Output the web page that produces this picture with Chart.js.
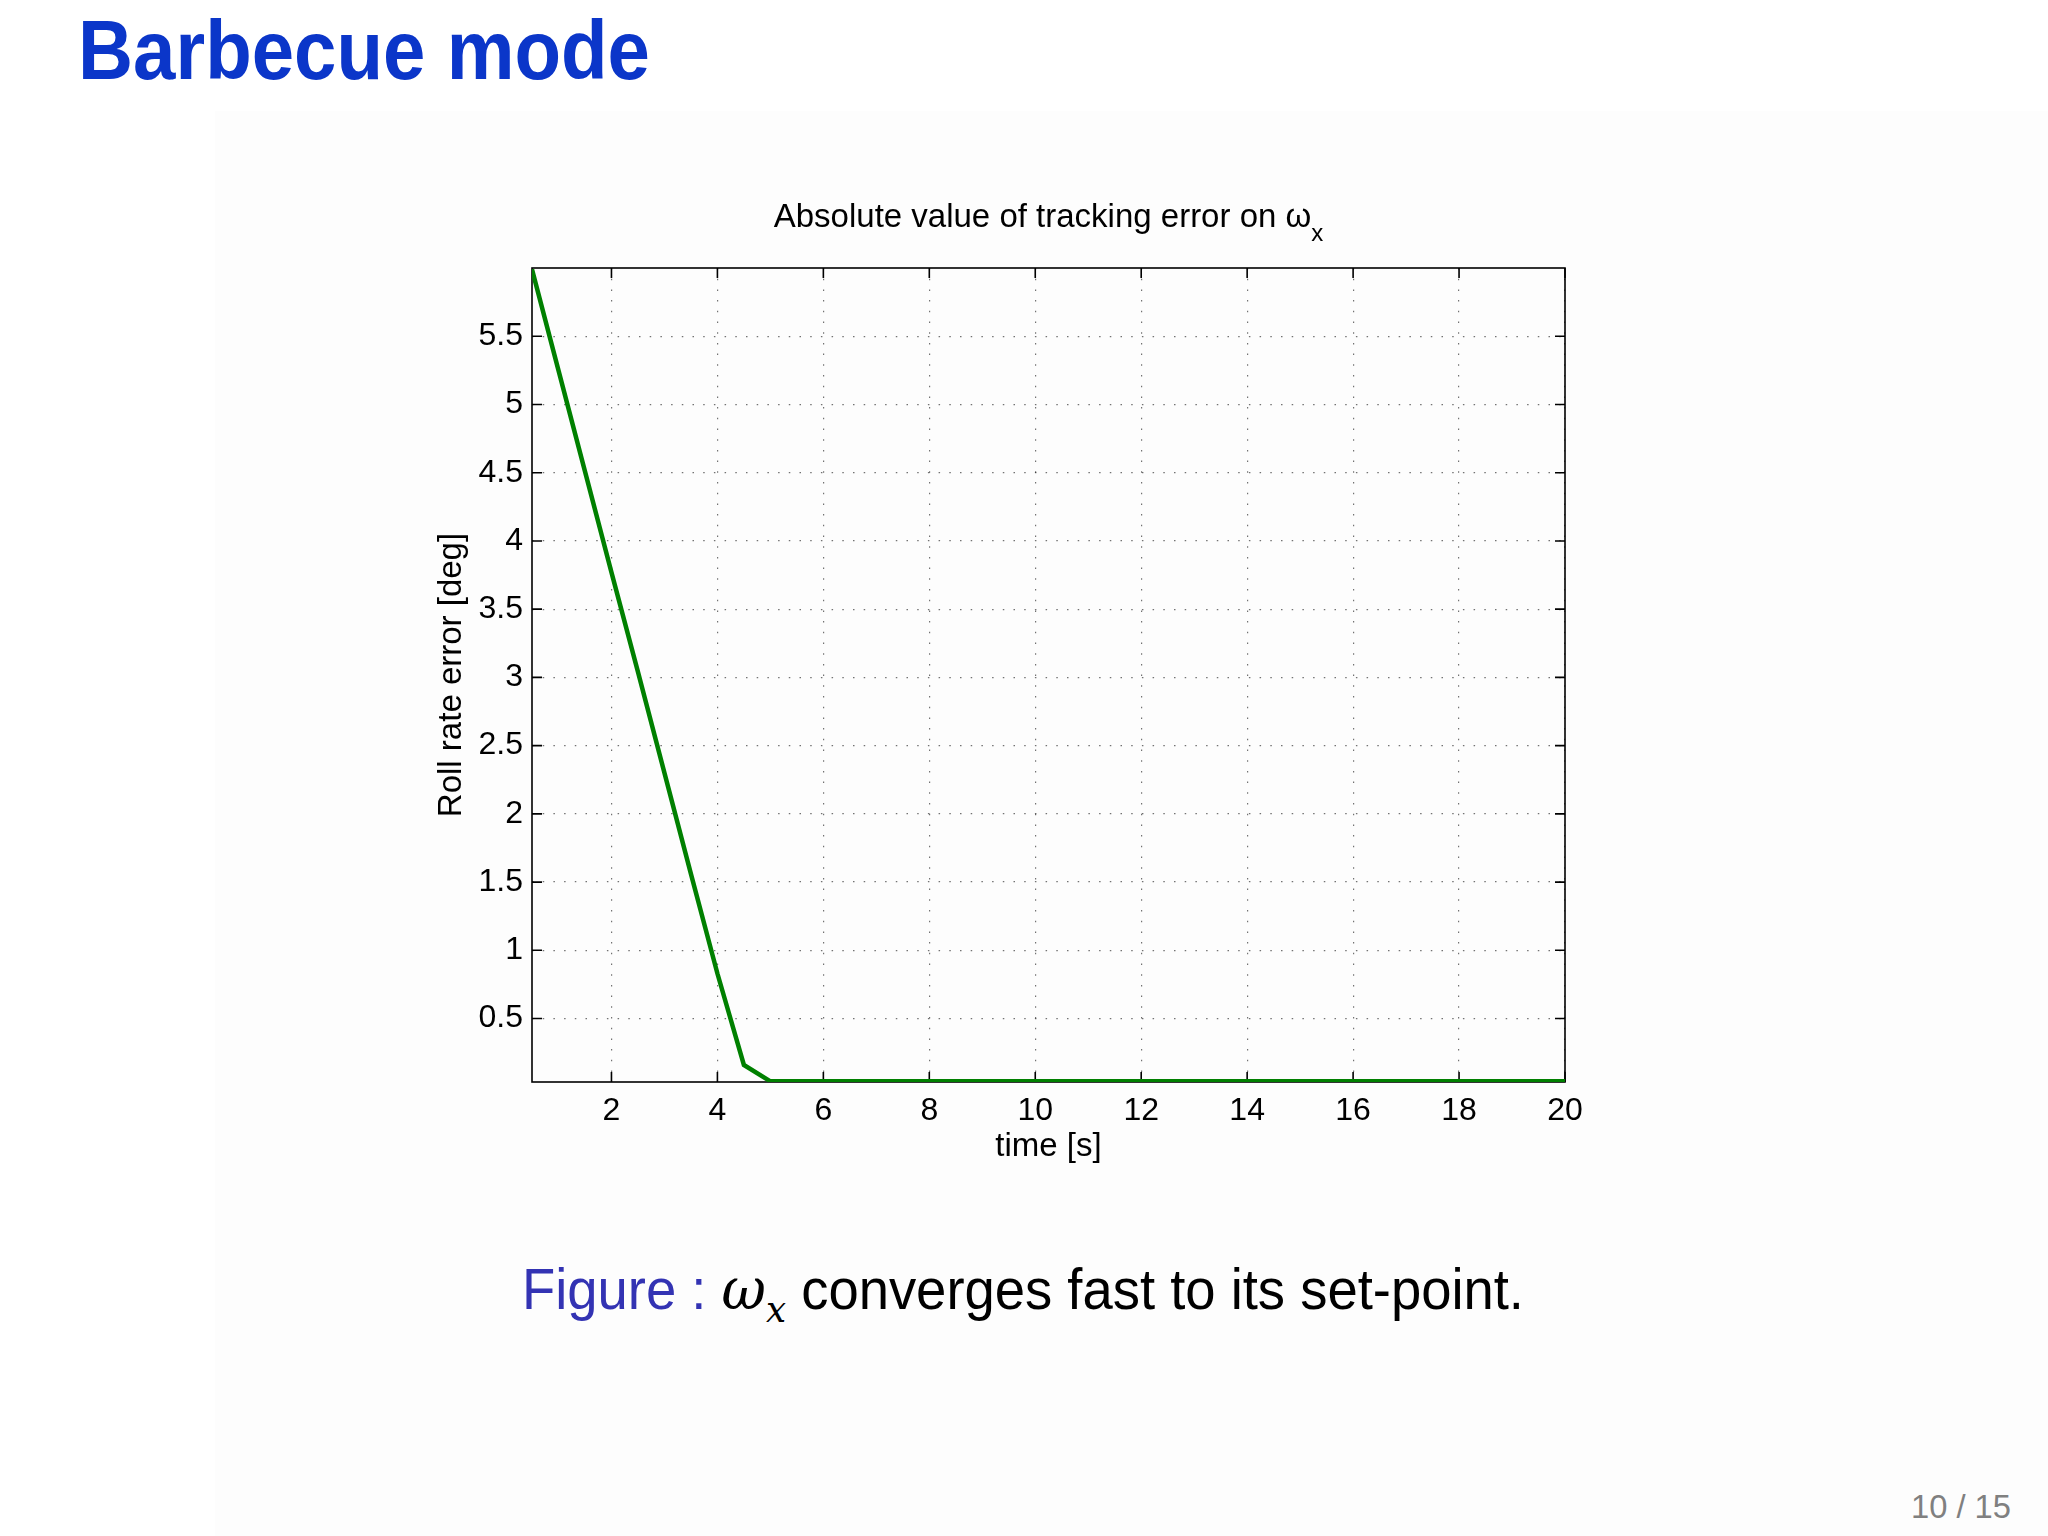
<!DOCTYPE html>
<html>
<head>
<meta charset="utf-8">
<script src="https://cdn.jsdelivr.net/npm/chart.js@4/dist/chart.umd.min.js"></script>
<style>
  html, body { margin: 0; padding: 0; background: #fff; }
  body { width: 2048px; height: 1536px; position: relative; overflow: hidden; font-family: "Liberation Sans", Arial, sans-serif; }
  #panel { position: absolute; left: 215px; top: 111px; width: 1833px; height: 1425px; background: #fdfdfd; }
  #head { position: absolute; left: 78px; top: 0px; font-weight: bold; font-size: 84px; color: #0b36c9; white-space: nowrap; transform-origin: 0 0; line-height: 100px; }
  #wrap { position: absolute; left: 380px; top: 150px; width: 1240px; height: 1050px; }
  #caption { position: absolute; left: 522px; top: 1254px; font-size: 58px; white-space: nowrap; transform-origin: 0 0; line-height: 70px; color: #000; }
  #caption .lbl { color: #3333b3; }
  #caption i { font-family: "DejaVu Serif", serif; }
  #caption sub { font-size: 38px; }
  #pg { position: absolute; left: 1911px; top: 1488px; font-size: 33px; color: #808080; white-space: nowrap; transform-origin: 0 0; }
</style>
</head>
<body>
<div id="panel"></div>
<div id="head">Barbecue mode</div>
<div id="wrap"><canvas id="myChart"></canvas></div>
<div id="caption"><span class="lbl">Figure :</span> <i>ω<sub>x</sub></i> converges fast to its set-point.</div>
<div id="pg">10 / 15</div>
<script>
// datos
var timeS   = [0.5, 1, 1.5, 2, 2.5, 3, 3.5, 4, 4.5, 5, 10, 15, 20];
var rollErr = [5.99, 5.25, 4.51, 3.77, 3.04, 2.30, 1.56, 0.83, 0.16, 0.04, 0.04, 0.04, 0.04];
var xTicks  = [2, 4, 6, 8, 10, 12, 14, 16, 18, 20];
var yTicks  = [0.5, 1, 1.5, 2, 2.5, 3, 3.5, 4, 4.5, 5, 5.5];

// ajustar textos al ancho del original
function fitWidth(id, w) {
  var el = document.getElementById(id);
  var r = w / el.getBoundingClientRect().width;
  el.style.transform = 'scaleX(' + r + ')';
}
fitWidth('head', 572);
fitWidth('caption', 1002);
fitWidth('pg', 100);

var points = timeS.map(function (t, i) { return { x: t, y: rollErr[i] }; });

// marco, marcas hacia dentro y titulo con subindice
var matlabAxes = {
  id: 'matlabAxes',
  beforeDatasetsDraw: function (chart) {
    var c = chart.ctx, a = chart.chartArea;
    var xs = chart.scales.x, ys = chart.scales.y;
    var tl = 10;
    c.save();
    c.strokeStyle = '#000';
    c.lineWidth = 1.6;
    c.strokeRect(a.left, a.top, a.right - a.left, a.bottom - a.top);
    c.beginPath();
    xTicks.forEach(function (v) {
      var px = xs.getPixelForValue(v);
      c.moveTo(px, a.bottom); c.lineTo(px, a.bottom - tl);
      c.moveTo(px, a.top); c.lineTo(px, a.top + tl);
    });
    yTicks.forEach(function (v) {
      var py = ys.getPixelForValue(v);
      c.moveTo(a.left, py); c.lineTo(a.left + tl, py);
      c.moveTo(a.right, py); c.lineTo(a.right - tl, py);
    });
    c.stroke();

    // titulo
    var main = 'Absolute value of tracking error on ω';
    c.fillStyle = '#000';
    c.font = '33px "Liberation Sans", Arial, sans-serif';
    var wMain = c.measureText(main).width;
    c.font = '24px "Liberation Sans", Arial, sans-serif';
    var wSub = c.measureText('x').width;
    var x0 = (a.left + a.right) / 2 - (wMain + wSub) / 2;
    c.textBaseline = 'alphabetic';
    c.textAlign = 'left';
    c.font = '33px "Liberation Sans", Arial, sans-serif';
    c.fillText(main, x0, 77);
    c.font = '24px "Liberation Sans", Arial, sans-serif';
    c.fillText('x', x0 + wMain, 91);
    c.restore();
  }
};

var data = {
  datasets: [{
    label: 'Roll rate error',
    data: points,
    borderColor: '#008000',
    backgroundColor: '#008000',
    borderWidth: 4.5,
    pointRadius: 0,
    tension: 0
  }]
};

var options = {
  responsive: true,
  maintainAspectRatio: false,
  devicePixelRatio: 1,
  animation: false,
  layout: { padding: { left: 52, top: 118, right: 55, bottom: 33 } },
  plugins: { legend: { display: false }, tooltip: { enabled: false }, title: { display: false } },
  scales: {
    x: {
      type: 'linear',
      min: 0.5,
      max: 20,
      afterBuildTicks: function (s) { s.ticks = xTicks.map(function (v) { return { value: v }; }); },
      afterFit: function (s) { s.height = 85; },
      grid: { color: 'rgba(0,0,0,0.55)', lineWidth: 1.2, drawTicks: false },
      border: { display: false, dash: [1.5, 9.2] },
      ticks: { color: '#000', font: { size: 32, family: '"Liberation Sans", Arial, sans-serif' }, padding: 10, maxRotation: 0, autoSkip: false,
               callback: function (v) { return String(v); } },
      title: { display: true, text: 'time [s]', color: '#000', padding: 0, font: { size: 33, family: '"Liberation Sans", Arial, sans-serif' } }
    },
    y: {
      type: 'linear',
      min: 0.035,
      max: 6,
      afterBuildTicks: function (s) { s.ticks = yTicks.map(function (v) { return { value: v }; }); },
      afterFit: function (s) { s.width = 100; },
      grid: { color: 'rgba(0,0,0,0.55)', lineWidth: 1.2, drawTicks: false },
      border: { display: false, dash: [1.5, 9.2] },
      ticks: { color: '#000', font: { size: 32, family: '"Liberation Sans", Arial, sans-serif' }, padding: 9, autoSkip: false,
               callback: function (v) { return String(v); } },
      title: { display: true, text: 'Roll rate error [deg]', color: '#000', padding: 0, font: { size: 33, family: '"Liberation Sans", Arial, sans-serif' } }
    }
  }
};

var ctx = document.getElementById('myChart').getContext('2d');
var myChart = new Chart(ctx, {
  type: 'line',
  data: data,
  options: options,
  plugins: [matlabAxes]
});
</script>
</body>
</html>
